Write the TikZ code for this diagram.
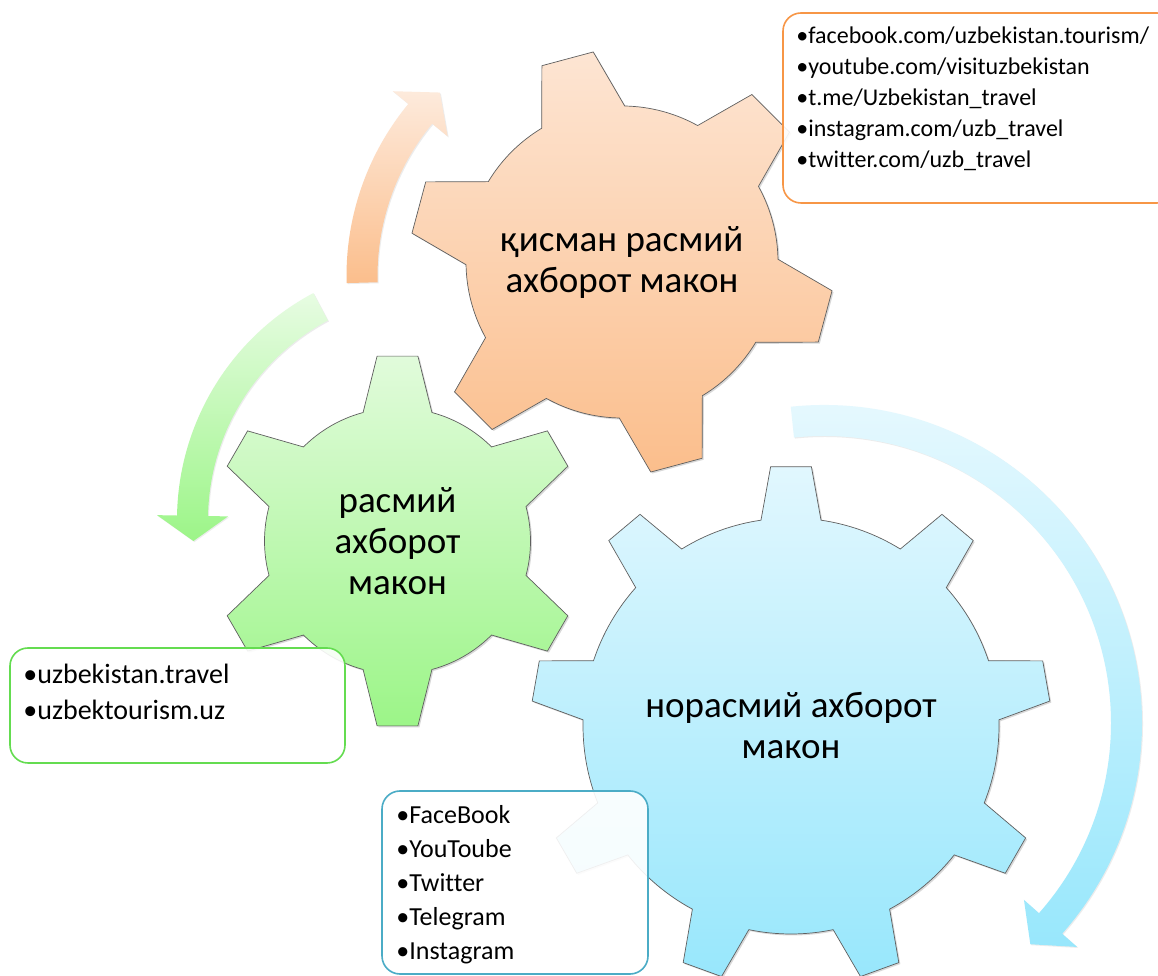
\documentclass[tikz,border=0pt]{standalone}
\usepackage{fontspec}
\setmainfont{Carlito}[Ligatures={NoCommon,NoContextual}]
\usepackage{tikz}
\usetikzlibrary{positioning,shadows}
\definecolor{Otop}{RGB}{253,229,211}
\definecolor{Obot}{RGB}{251,190,140}
\definecolor{Gtop}{RGB}{225,251,219}
\definecolor{Gbot}{RGB}{156,245,136}
\definecolor{Btop}{RGB}{225,247,254}
\definecolor{Bbot}{RGB}{152,231,252}
\definecolor{Oline}{RGB}{247,150,70}
\definecolor{Gline}{RGB}{100,220,80}
\definecolor{Bline}{RGB}{75,172,198}
\definecolor{Gedge}{RGB}{95,95,95}
% gear: style, centre, first tooth angle, teeth, tip r, body r, tip half angle, base half angle
\newcommand{\Gear}[8]{%
    \pgfmathsetmacro\Gsp{360/#4}
    \pgfmathsetmacro\Gnext{#3+\Gsp}
    \pgfmathsetmacro\Glast{#3+360-\Gsp}
    \path[#1, shift={#2}] (#3-#8:#6)
      \foreach \a in {#3,\Gnext,...,\Glast}{
        -- (\a-#8:#6) -- (\a-#7:#5) -- (\a+#7:#5) -- (\a+#8:#6)
        arc[start angle=\a+#8, delta angle=\Gsp-2*#8, radius=#6]
      } -- cycle;
  }
% curved arrow: style, centre, tail angle, head base angle, tip angle, mid r, shaft half, head half
\newcommand{\Garrow}[8]{%
    \path[#1, shift={#2}]
      (#3:#6+#7) arc[start angle=#3, end angle=#4, radius=#6+#7]
      -- (#4:#6+#8) -- (#5:#6) -- (#4:#6-#8) -- (#4:#6-#7)
      arc[start angle=#4, end angle=#3, radius=#6-#7] -- cycle;
  }

\begin{document}
\begin{tikzpicture}[x=1pt,y=1pt,
    gearbase/.style={draw=Gedge, line width=0.7pt,
      drop shadow={opacity=0.3, shadow xshift=1.5pt, shadow yshift=-1.5pt}},
    arrowbase/.style={drop shadow={opacity=0.15, shadow xshift=1pt, shadow yshift=-1pt}},
    geartext/.style={align=center, inner sep=0pt, font=\fontsize{37}{41}\selectfont},
    infobox/.style={line width=1.6pt, rounded corners=18pt, fill=white,
      fill opacity=0.9, inner sep=0pt},
    listtext/.style={align=left, inner sep=0pt}]
  \path[use as bounding box, fill=white] (0,0) rectangle (1158,976);

  % ------------------------------------------------
  % circular arrows round the gears
  % ------------------------------------------------
  \Garrow{arrowbase, top color=Otop!80!white, bottom color=Obot}{(617,700)}{181.5}{140.5}{134}{255}{15.5}{35.5}
  \Garrow{arrowbase, top color=Gtop!80!white, bottom color=Gbot}{(434,456)}{118}{179}{185}{241.5}{15.5}{35.5}
  \Garrow{arrowbase, top color=Btop!80!white, bottom color=Bbot}{(824,253)}{96}{-41.5}{-47}{302.5}{15.5}{35.5}

  % ------------------------------------------------
  % the three gears
  % ------------------------------------------------
  \Gear{gearbase, top color=Gtop, bottom color=Gbot}{(397.5,435)}{90}{6}{186}{133}{6.3}{15}
  \Gear{gearbase, top color=Otop, bottom color=Obot}{(622,714)}{105}{6}{212}{156}{7.2}{16}
  \Gear{gearbase, top color=Btop, bottom color=Bbot}{(791,250)}{90}{9}{260}{208}{4.5}{8.3}

  \node[geartext] (otitle) at (622,714) {қисман расмий\\ахборот макон};
  \node[geartext] (gtitle) at (397.5,435) {расмий\\ахборот\\макон};
  \node[geartext] (btitle) at (791,250) {норасмий ахборот\\макон};

  % ------------------------------------------------
  % link boxes
  % ------------------------------------------------
  \node[infobox, draw=Oline, minimum width=392pt, minimum height=190pt] (obox) at (979,868) {};
  \node[infobox, draw=Gline, minimum width=335pt, minimum height=115pt] (gbox) at (177.5,270.5) {};
  \node[infobox, draw=Bline, minimum width=266pt, minimum height=183pt] (bbox) at (515,93.5) {};

  \node[listtext, font=\fontsize{24}{31}\selectfont, below right=14pt and 14pt of obox.north west] (otext)
    {•facebook.com/uzbekistan.tourism/\\•youtube.com/visituzbekistan\\•t.me/Uzbekistan\_travel\\%
     •instagram.com/uzb\_travel\\•twitter.com/uzb\_travel};
  \node[listtext, font=\fontsize{28}{36}\selectfont, below right=17pt and 14pt of gbox.north west] (gtext)
    {•uzbekistan.travel\\•uzbektourism.uz};
  \node[listtext, font=\fontsize{26}{34}\selectfont, below right=15pt and 15pt of bbox.north west] (btext)
    {•FaceBook\\•YouToube\\•Twitter\\•Telegram\\•Instagram};
\end{tikzpicture}
\end{document}
